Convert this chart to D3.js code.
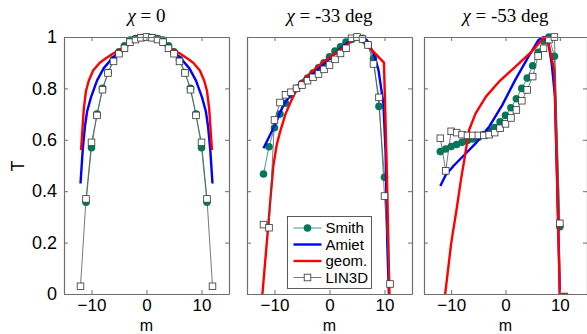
<!DOCTYPE html>
<html>
<head>
<meta charset="utf-8">
<script src="https://cdn.jsdelivr.net/npm/d3@7"></script>
<style>
  body { margin: 0; background: #fff; }
  svg { display: block; }
  .tick-label { font-family: "Liberation Sans", Arial, sans-serif; font-size: 18px; fill: #000; }
  .x-tick-label { font-family: "Liberation Sans", Arial, sans-serif; font-size: 17px; fill: #000; }
  .x-name { font-family: "Liberation Sans", Arial, sans-serif; font-size: 16px; fill: #000; }
  .panel-title { font-family: "Liberation Serif", "DejaVu Serif", serif; font-size: 19px; fill: #000; }
  .legend-text { font-family: "Liberation Sans", Arial, sans-serif; font-size: 15px; fill: #000; }
</style>
</head>
<body>
<div id="chart"></div>
<script>
// chi = 0
const smith0_m = [-11, -10, -9, -8, -7, -6, -5, -4, -3, -2, -1, 0, 1, 2, 3, 4, 5, 6, 7, 8, 9, 10, 11];
const smith0_T = [0.357, 0.569, 0.70, 0.80, 0.862, 0.912, 0.942, 0.966, 0.988, 0.994, 0.998, 1.0, 0.998, 0.994, 0.988, 0.966, 0.942, 0.912, 0.862, 0.80, 0.70, 0.569, 0.357];
const lin0_m = [-12, -11, -10, -9, -8, -7, -6, -5, -4, -3, -2, -1, 0, 1, 2, 3, 4, 5, 6, 7, 8, 9, 10, 11, 12];
const lin0_T = [0.03, 0.37, 0.59, 0.695, 0.795, 0.86, 0.905, 0.935, 0.956, 0.98, 0.99, 0.997, 1.0, 0.997, 0.99, 0.98, 0.956, 0.935, 0.905, 0.86, 0.795, 0.695, 0.59, 0.37, 0.03];
const amiet0_m = [-12, -11.6, -11.2, -10.8, -10.1, -9, -7.8, -6, -4.2, -2, 0, 2, 4.2, 6, 7.8, 9, 10.1, 10.8, 11.2, 11.6, 12];
const amiet0_T = [0.43, 0.56, 0.65, 0.71, 0.765, 0.83, 0.878, 0.923, 0.956, 0.988, 1.0, 0.988, 0.956, 0.923, 0.878, 0.83, 0.765, 0.71, 0.65, 0.56, 0.43];
const geom0_m = [-11.9, -11.4, -11, -10.5, -9.7, -8.5, -7.5, -6, -4.5, -3, -1.5, 0, 1.5, 3, 4.5, 6, 7.5, 8.5, 9.7, 10.5, 11, 11.4, 11.9];
const geom0_T = [0.56, 0.72, 0.79, 0.83, 0.87, 0.90, 0.915, 0.937, 0.955, 0.975, 0.993, 1.0, 0.993, 0.975, 0.955, 0.937, 0.915, 0.90, 0.87, 0.83, 0.79, 0.72, 0.56];

// chi = -33 deg
const smith33_m = [-12, -11, -10, -9, -8, -7, -6, -5, -4, -3, -2, -1, 0, 1, 2, 3, 4, 5, 6, 7, 8, 9, 10];
const smith33_T = [0.467, 0.573, 0.647, 0.70, 0.742, 0.775, 0.80, 0.82, 0.84, 0.86, 0.88, 0.90, 0.923, 0.945, 0.962, 0.98, 0.99, 1.0, 0.995, 0.97, 0.917, 0.73, 0.454];
const lin33_m = [-12, -11, -10, -9, -8, -7, -6, -5, -4, -3, -2, -1, 0, 1, 2, 3, 4, 5, 6, 7, 8, 9, 10, 11];
const lin33_T = [0.27, 0.258, 0.677, 0.745, 0.775, 0.785, 0.80, 0.813, 0.83, 0.843, 0.856, 0.874, 0.891, 0.913, 0.936, 0.956, 0.995, 1.0, 0.992, 0.969, 0.895, 0.765, 0.381, 0.039];
const amiet33_m = [-12, -10.2, -8.4, -6, -2.9, 0, 3.1, 5, 6.8, 8, 8.9, 9.8, 10.2, 10.5, 10.8];
const amiet33_T = [0.567, 0.645, 0.735, 0.807, 0.859, 0.917, 0.975, 1.0, 0.988, 0.937, 0.872, 0.742, 0.55, 0.2, 0.0];
const geom33_m = [-12.2, -11.2, -10.6, -10.2, -9.6, -9, -8, -7, -5.4, -3.2, -1.1, 1.9, 4.3, 5, 7.4, 9.9, 10.4, 10.9];
const geom33_T = [0.0, 0.25, 0.405, 0.5, 0.58, 0.63, 0.70, 0.75, 0.82, 0.865, 0.904, 0.949, 0.988, 1.0, 0.956, 0.9, 0.5, 0.0];

// chi = -53 deg
const smith53_m = [-12, -11, -10, -9, -8, -7, -6, -5, -4, -3, -2, -1, 0, 1, 2, 3, 4, 5, 6, 7, 8, 9, 10];
const smith53_T = [0.554, 0.564, 0.574, 0.582, 0.59, 0.597, 0.603, 0.61, 0.62, 0.635, 0.648, 0.67, 0.695, 0.725, 0.76, 0.80, 0.84, 0.888, 0.94, 0.985, 1.0, 0.925, 0.262];
const lin53_m = [-12, -11, -10, -9, -8, -7, -6, -5, -4, -3, -2, -1, 0, 1, 2, 3, 4, 5, 6, 7, 8, 9, 10];
const lin53_T = [0.606, 0.479, 0.633, 0.628, 0.62, 0.617, 0.617, 0.617, 0.617, 0.62, 0.628, 0.645, 0.662, 0.685, 0.716, 0.752, 0.794, 0.846, 0.926, 0.956, 0.99, 1.0, 0.275];
const amiet53_m = [-12, -11, -9.5, -7.9, -5.5, -3, -0.6, 1.8, 4.2, 6.05, 7, 7.9, 8.5, 9.1, 9.5, 10];
const amiet53_T = [0.42, 0.463, 0.5, 0.534, 0.586, 0.651, 0.735, 0.833, 0.923, 0.988, 1.0, 0.975, 0.898, 0.77, 0.44, 0.0];
const geom53_m = [-11.1, -10, -9, -8.2, -7.6, -7.3, -6.7, -5.5, -3.6, -1.2, 1.8, 4.8, 7.15, 7.9, 9, 9.5, 10, 11.5];
const geom53_T = [0.0, 0.197, 0.33, 0.444, 0.52, 0.56, 0.638, 0.703, 0.768, 0.826, 0.884, 0.943, 1.0, 0.975, 0.87, 0.45, 0.0, 0.0];

const panelTitles = ["= 0", "= -33 deg", "= -53 deg"];
const legendNames = ["Smith", "Amiet", "geom.", "LIN3D"];
const xTicks = [-10, 0, 10];
const yTicks = [0, 0.2, 0.4, 0.6, 0.8, 1];

const zip = (ms, ts) => ms.map((m, i) => ({ m: m, T: ts[i] }));

const panels = [
  { left: 64, right: 229, title: panelTitles[0], smith: zip(smith0_m, smith0_T), lin: zip(lin0_m, lin0_T), amiet: zip(amiet0_m, amiet0_T), geom: zip(geom0_m, geom0_T) },
  { left: 247, right: 412, title: panelTitles[1], smith: zip(smith33_m, smith33_T), lin: zip(lin33_m, lin33_T), amiet: zip(amiet33_m, amiet33_T), geom: zip(geom33_m, geom33_T) },
  { left: 424, right: 587, title: panelTitles[2], smith: zip(smith53_m, smith53_T), lin: zip(lin53_m, lin53_T), amiet: zip(amiet53_m, amiet53_T), geom: zip(geom53_m, geom53_T) }
];

const W = 587, H = 334;
const plotTop = 37, plotBottom = 294;
const colors = { smith: "#00795a", smithLine: "#2f8f7c", amiet: "#0000ff", geom: "#ff0000", lin: "#555555" };
const axisColor = "#6e6e6e";

const svg = d3.select("#chart").append("svg").attr("width", W).attr("height", H);

const y = d3.scaleLinear().domain([0, 1]).range([plotBottom, plotTop]);

panels.forEach((p, idx) => {
  const x = d3.scaleLinear().domain([-15, 15]).range([p.left, p.right]);
  const g = svg.append("g");
  const clipId = "clip" + idx;
  g.append("clipPath").attr("id", clipId).append("rect")
    .attr("x", p.left).attr("y", plotTop - 6).attr("width", p.right - p.left).attr("height", plotBottom - plotTop + 6);

  const line = d3.line().x(d => x(d.m)).y(d => y(d.T));
  const plot = g.append("g").attr("clip-path", `url(#${clipId})`);

  // Smith
  plot.append("path").datum(p.smith).attr("d", line)
    .attr("fill", "none").attr("stroke", colors.smithLine).attr("stroke-width", 0.9);
  plot.selectAll(".smith-pt").data(p.smith).enter().append("circle")
    .attr("cx", d => x(d.m)).attr("cy", d => y(d.T)).attr("r", 3.8)
    .attr("fill", colors.smith);

  // Amiet
  plot.append("path").datum(p.amiet).attr("d", line)
    .attr("fill", "none").attr("stroke", colors.amiet).attr("stroke-width", 2.4).attr("stroke-linejoin", "round");
  // geom
  plot.append("path").datum(p.geom).attr("d", line)
    .attr("fill", "none").attr("stroke", colors.geom).attr("stroke-width", 2.4).attr("stroke-linejoin", "round");

  // LIN3D
  plot.append("path").datum(p.lin).attr("d", line)
    .attr("fill", "none").attr("stroke", colors.lin).attr("stroke-width", 0.8);
  plot.selectAll(".lin-pt").data(p.lin).enter().append("rect")
    .attr("x", d => x(d.m) - 3.3).attr("y", d => y(d.T) - 3.3).attr("width", 6.6).attr("height", 6.6)
    .attr("fill", "#fff").attr("stroke", "#333").attr("stroke-width", 0.8);

  // axes box with inward ticks
  const bottom = d3.axisBottom(x).tickValues(xTicks).tickSizeInner(-4).tickSizeOuter(0).tickPadding(8).tickFormat(d3.format("d"));
  const top = d3.axisTop(x).tickValues(xTicks).tickSizeInner(-4).tickSizeOuter(0).tickFormat("");
  const leftAx = d3.axisLeft(y).tickValues(yTicks).tickSizeInner(-4).tickSizeOuter(0).tickPadding(7).tickFormat(idx === 0 ? d3.format("") : "");
  const rightAx = d3.axisRight(y).tickValues(yTicks).tickSizeInner(-4).tickSizeOuter(0).tickFormat("");

  const gb = g.append("g").attr("transform", `translate(0,${plotBottom})`).call(bottom);
  const gt = g.append("g").attr("transform", `translate(0,${plotTop})`).call(top);
  const gl = g.append("g").attr("transform", `translate(${p.left},0)`).call(leftAx);
  const gr = g.append("g").attr("transform", `translate(${p.right},0)`).call(rightAx);
  [gb, gt, gl, gr].forEach(a => {
    a.select(".domain").attr("stroke", axisColor).attr("stroke-width", 1.2);
    a.selectAll(".tick line").attr("stroke", axisColor);
    a.selectAll(".tick text").attr("class", "tick-label").attr("font-size", null).attr("font-family", null);
  });
  gb.selectAll(".tick text").attr("class", "x-tick-label").attr("dy", "0.5em");

  // x label
  g.append("text").attr("class", "x-name")
    .attr("x", x(0)).attr("y", 330.5).attr("text-anchor", "middle").text("m");

  // title
  const t = g.append("text").attr("class", "panel-title")
    .attr("x", x(0)).attr("y", 22).attr("text-anchor", "middle");
  t.append("tspan").attr("font-style", "italic").text("χ");
  t.append("tspan").text(" " + p.title);
});

// y label
svg.append("text").attr("class", "tick-label")
  .attr("transform", "translate(24,166) rotate(-90)")
  .attr("text-anchor", "middle").text("T");

// legend in middle panel
const legend = svg.append("g").attr("transform", "translate(287.5,216.5)");
legend.append("rect").attr("width", 84).attr("height", 72)
  .attr("fill", "#fff").attr("stroke", "#333").attr("stroke-width", 0.8);
legendNames.forEach((name, i) => {
  const ly = 11.5 + i * 16.5;
  const item = legend.append("g");
  if (i === 0) {
    item.append("line").attr("x1", 6).attr("x2", 34).attr("y1", ly).attr("y2", ly).attr("stroke", colors.smithLine).attr("stroke-width", 0.9);
    item.append("circle").attr("cx", 20).attr("cy", ly).attr("r", 3.8).attr("fill", colors.smith);
  } else if (i === 1 || i === 2) {
    item.append("line").attr("x1", 6).attr("x2", 34).attr("y1", ly).attr("y2", ly)
      .attr("stroke", i === 1 ? colors.amiet : colors.geom).attr("stroke-width", 2.4);
  } else {
    item.append("line").attr("x1", 6).attr("x2", 34).attr("y1", ly).attr("y2", ly).attr("stroke", colors.lin).attr("stroke-width", 0.8);
    item.append("rect").attr("x", 16.7).attr("y", ly - 3.3).attr("width", 6.6).attr("height", 6.6)
      .attr("fill", "#fff").attr("stroke", "#333").attr("stroke-width", 0.8);
  }
  item.append("text").attr("class", "legend-text").attr("x", 38).attr("y", ly + 5).text(name);
});
</script>
</body>
</html>
